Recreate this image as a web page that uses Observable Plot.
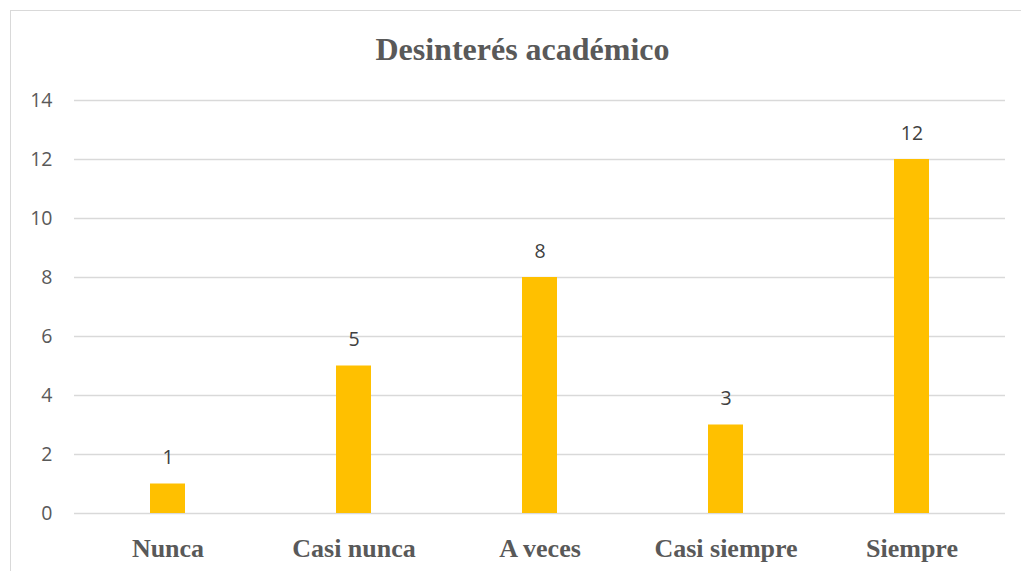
<!DOCTYPE html>
<html>
<head>
<meta charset="utf-8">
<script src="https://cdn.jsdelivr.net/npm/d3@7"></script>
<script src="https://cdn.jsdelivr.net/npm/@observablehq/plot@0.6"></script>
<style>
  html, body { margin: 0; padding: 0; background: #fff; overflow: hidden; }
  #frame { position: absolute; left: 10px; top: 10px; width: 1100px; height: 700px; border: 1.5px solid #d9d9d9; box-sizing: border-box; }
  #title { position: absolute; left: 0; top: 0; width: 1045px; height: 80px; text-align: center; font-family: "Liberation Serif", "Times New Roman", Tinos, "DejaVu Serif", serif; font-weight: bold; font-size: 32px; color: #595959; line-height: 98px; }
  #chart { position: absolute; left: 0; top: 80px; }
</style>
</head>
<body>
<div id="frame"></div>
<div id="title">Desinterés académico</div>
<div id="chart"></div>
<script>
const categories = ["Nunca", "Casi nunca", "A veces", "Casi siempre", "Siempre"];
const values = [1, 5, 8, 3, 12];
const yTicks = [0, 2, 4, 6, 8, 10, 12, 14];

const data = categories.map((c, i) => ({category: c, value: values[i]}));
const sans = "'Open Sans', Lato, sans-serif";
const serif = "'Liberation Serif', 'Times New Roman', Tinos, 'DejaVu Serif', serif";

const chart = Plot.plot({
  width: 1021,
  height: 491,
  marginLeft: 74,
  marginRight: 16,
  marginTop: 20,
  marginBottom: 58,
  style: {background: "transparent", overflow: "visible"},
  x: {domain: categories, paddingInner: 0.81, paddingOuter: 0.405, label: null},
  y: {domain: [0, 14], ticks: yTicks, label: null},
  marks: [
    Plot.gridY(yTicks, {stroke: "#d9d9d9", strokeOpacity: 1, strokeWidth: 1.5}),
    Plot.barY(data, {x: "category", y: "value", fill: "#FFC000"}),
    Plot.text(data, {x: "category", y: "value", text: d => String(d.value), dy: -26, fill: "#404040", fontSize: 19.5, fontFamily: sans}),
    Plot.axisY(yTicks, {tickSize: 0, tickPadding: 22, fontSize: 19.5, fill: "#595959", fontFamily: sans, label: null}),
    Plot.axisX({tickSize: 0, tickPadding: 25, fontSize: 26, fontWeight: "bold", fill: "#595959", fontFamily: serif, label: null})
  ]
});
document.getElementById("chart").appendChild(chart);
</script>
</body>
</html>
